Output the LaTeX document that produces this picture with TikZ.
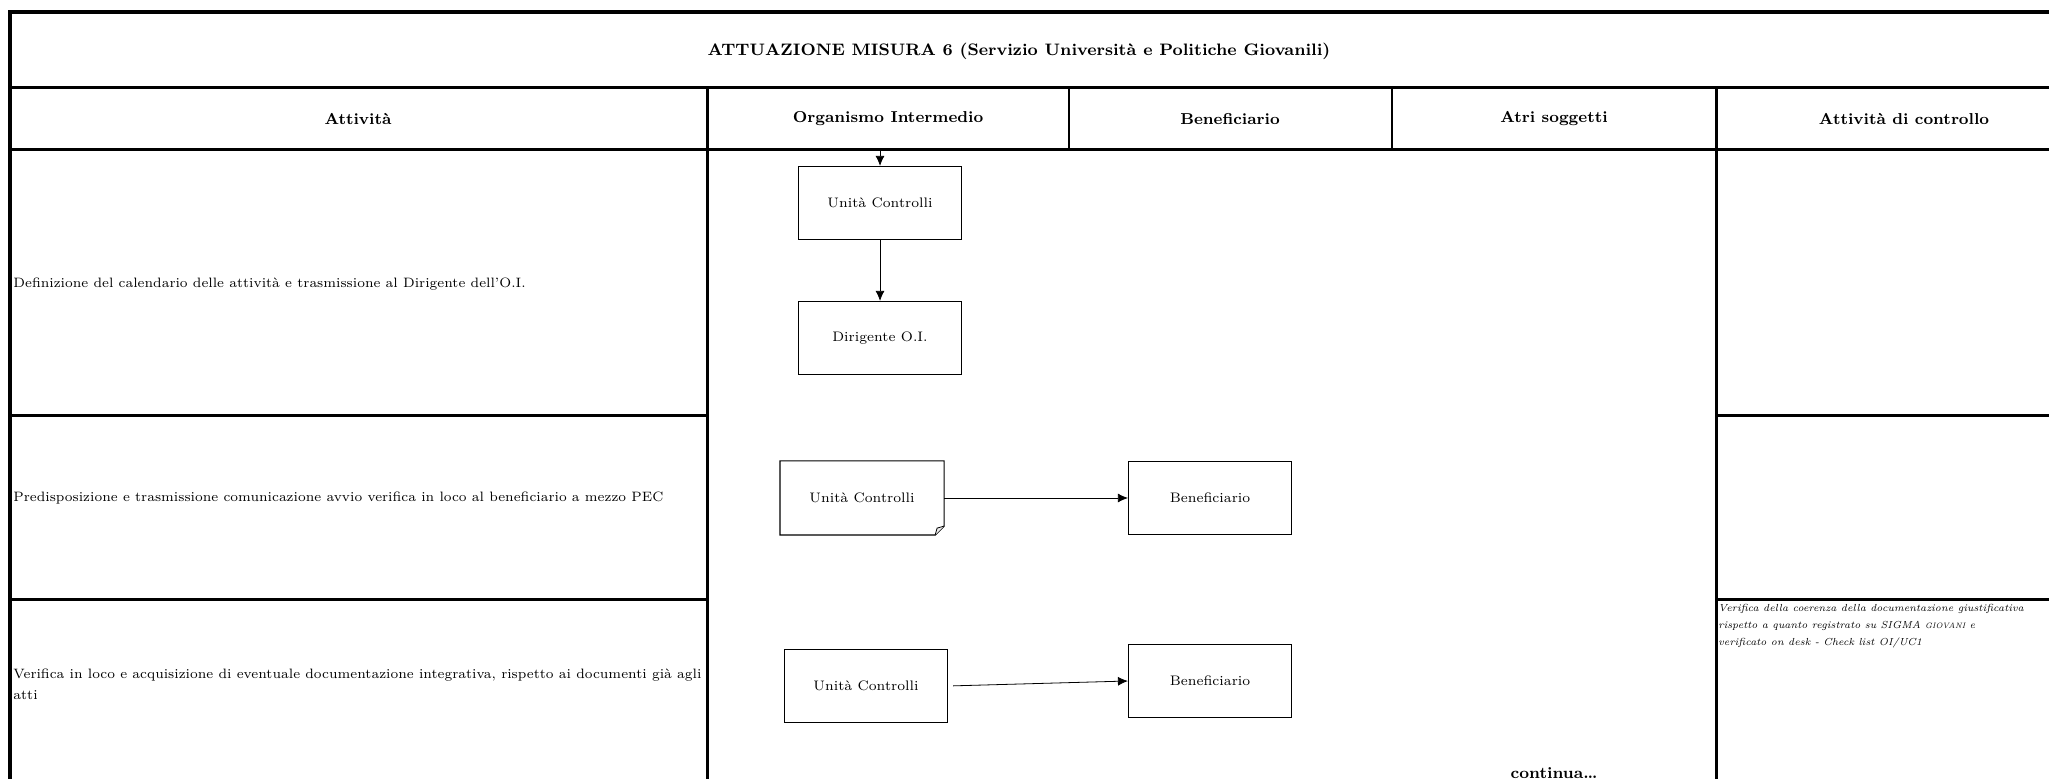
\documentclass[tikz,border=0pt]{standalone}
\usetikzlibrary{arrows.meta}
\begin{document}
\begin{tikzpicture}[x=0.5pt, y=-0.5pt, >={Latex[length=5pt,width=4.5pt]},
    box/.style={draw, line width=0.6pt, minimum width=81.5pt, minimum height=36.5pt, inner sep=0pt, font=\fontsize{6.9}{8}\selectfont},
    head/.style={font=\fontsize{7.9}{10}\selectfont\bfseries},
    act/.style={anchor=west, inner sep=0pt, align=left, font=\fontsize{6.8}{10.5}\selectfont},
    gridline/.style={line width=1.5pt},
    thinline/.style={line width=1pt}]

    \useasboundingbox (0,0) rectangle (2049,779);
    \clip (0,0) rectangle (2049,779);

    % Frame, title and header rows
    \draw[line width=2pt] (10,800) -- (10,12) -- (2100,12);
    \draw[gridline] (10,88) -- (2100,88);
    \draw[gridline] (10,150) -- (2100,150);
    \draw[gridline] (707,88) -- (707,800);
    \draw[gridline] (1716,88) -- (1716,800);
    \draw[thinline] (1069,88) -- (1069,150);
    \draw[thinline] (1392,88) -- (1392,150);
    \foreach \y in {416,600} {
        \draw[gridline] (10,\y) -- (707,\y);
        \draw[gridline] (1716,\y) -- (2100,\y);
    }

    \node[head, font=\fontsize{8.3}{10}\selectfont\bfseries] (title) at (1019,51) {ATTUAZIONE MISURA 6 (Servizio Università e Politiche Giovanili)};
    \node[head] (hAtt) at (358,119) {Attività};
    \node[head] (hOI) at (888,119) {Organismo Intermedio};
    \node[head] (hBen) at (1230,119) {Beneficiario};
    \node[head] (hAltri) at (1554,119) {Atri soggetti};
    \node[head] (hCtrl) at (1904,119) {Attività di controllo};

    % Activities
    \node[act] (a1) at (13,284) {Definizione del calendario delle attività e trasmissione al Dirigente dell'O.I.};
    \node[act] (a2) at (13,498) {Predisposizione e trasmissione comunicazione avvio verifica in loco al beneficiario a mezzo PEC};
    \node[act] (a3) at (13,684) {Verifica in loco e acquisizione di eventuale documentazione integrativa, rispetto ai documenti già agli\\atti};

    % Control notes
    \node[anchor=north west, inner sep=0pt, align=left, font=\fontsize{5.1}{8.4}\selectfont\itshape] (c3) at (1718,604)
        {Verifica della coerenza della documentazione giustificativa\\
         rispetto a quanto registrato su SIGMA {\fontsize{3.9}{8.4}\selectfont GIOVANI} e\\
         verificato on desk - Check list OI/UC1};

    % Step 1
    \node[box] (uc1) at (880,203) {Unità Controlli};
    \node[box] (dir) at (880,338) {Dirigente O.I.};
    \draw[->] ([yshift=8pt]uc1.north) -- (uc1.north);
    \draw[->] (uc1) -- (dir);

    % Step 2 (document shape)
    \node[box, draw=none] (uc2) at (862,498) {Unità Controlli};
    \draw[line width=0.6pt] (uc2.north west) -- (uc2.north east) -- ([yshift=4.5pt]uc2.south east)
        -- ([xshift=-4.5pt]uc2.south east) -- (uc2.south west) -- cycle;
    \draw[line width=0.4pt, fill=gray!15] ([yshift=4.5pt]uc2.south east) -- ([xshift=-3.5pt,yshift=3.5pt]uc2.south east)
        -- ([xshift=-4.5pt]uc2.south east);
    \node[box] (ben2) at (1210,498) {Beneficiario};
    \draw[->] (uc2) -- (ben2);

    % Step 3
    \node[box] (uc3) at (866,686) {Unità Controlli};
    \node[box] (ben3) at (1210,681) {Beneficiario};
    \draw[->, shorten <=2.5pt] (uc3.east) -- (ben3.west);

    \node[anchor=base, font=\fontsize{8}{10}\selectfont\bfseries] (cont) at (1554,778) {continua\ldots};

\end{tikzpicture}
\end{document}
